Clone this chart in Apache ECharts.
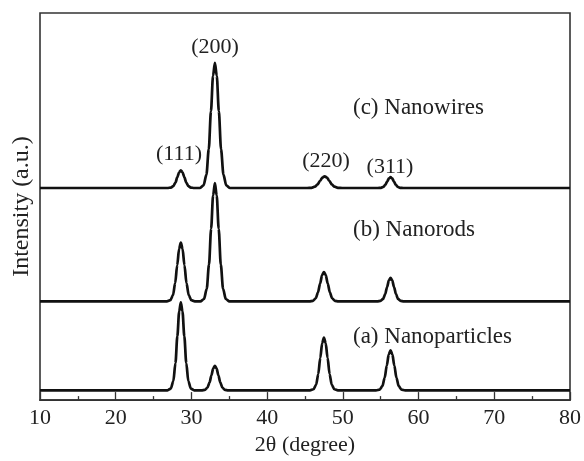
<!DOCTYPE html>
<html>
<head>
<meta charset="utf-8">
<script src="https://cdn.jsdelivr.net/npm/echarts@6/dist/echarts.min.js"></script>
<style>html,body{margin:0;padding:0;background:#fff;}#chart{width:584px;height:461px;}</style>
</head>
<body>
<div id="chart"></div>
<script>
// 2θ (degree) and intensity (a.u., with the vertical offsets as drawn) for each sample
const thetaA = [10,
  26.84, 27.28, 27.61, 27.89, 28.14, 28.38, 28.6, 28.82, 29.06, 29.32, 29.59, 29.92, 30.36,
  31.34, 31.78, 32.11, 32.39, 32.64, 32.88, 33.1, 33.32, 33.56, 33.82, 34.09, 34.42, 34.86,
  45.66, 46.12, 46.47, 46.75, 47.02, 47.27, 47.5, 47.73, 47.98, 48.25, 48.53, 48.88, 49.34,
  54.38, 54.86, 55.22, 55.52, 55.8, 56.06, 56.3, 56.54, 56.8, 57.08, 57.38, 57.74, 58.22,
  80];
const intensityA = [10,
  10, 11.8, 19.5, 37.9, 65.3, 90.6, 100, 90.6, 65.3, 37.9, 19.5, 11.8, 10,
  10, 10.5, 12.7, 17.8, 25.4, 32.4, 35, 32.4, 25.4, 17.8, 12.7, 10.5, 10,
  10, 11.1, 15.7, 26.7, 43.2, 58.3, 64, 58.3, 43.2, 26.7, 15.7, 11.1, 10,
  10, 10.8, 14.3, 22.7, 35.2, 46.7, 51, 46.7, 35.2, 22.7, 14.3, 10.8, 10,
  10];

const thetaB = [10,
  26.76, 27.22, 27.57, 27.85, 28.12, 28.37, 28.6, 28.83, 29.08, 29.35, 29.64, 29.98, 30.44,
  31.18, 31.66, 32.02, 32.32, 32.6, 32.86, 33.1, 33.34, 33.6, 33.88, 34.18, 34.54, 35.02,
  45.58, 46.06, 46.42, 46.72, 47.0, 47.26, 47.5, 47.74, 48.0, 48.28, 48.58, 48.94, 49.42,
  54.54, 54.98, 55.31, 55.59, 55.84, 56.08, 56.3, 56.52, 56.76, 57.02, 57.29, 57.62, 58.06,
  80];
const intensityB = [101,
  101, 102.2, 107.4, 119.6, 137.8, 154.7, 161, 154.7, 137.8, 119.6, 107.4, 102.2, 101,
  101, 103.4, 113.8, 138.5, 175.3, 209.3, 222, 209.3, 175.3, 138.5, 113.8, 103.4, 101,
  101, 101.6, 104.2, 110.3, 119.4, 127.9, 131, 127.9, 119.4, 110.3, 104.2, 101.6, 101,
  101, 101.5, 103.5, 108.4, 115.7, 122.5, 125, 122.5, 115.7, 108.4, 103.5, 101.5, 101,
  101];

const thetaC = [10,
  26.84, 27.28, 27.61, 27.89, 28.14, 28.38, 28.6, 28.82, 29.06, 29.32, 29.59, 29.92, 30.36,
  31.1, 31.6, 31.98, 32.29, 32.58, 32.85, 33.1, 33.35, 33.62, 33.91, 34.23, 34.6, 35.1,
  45.28, 45.86, 46.3, 46.66, 46.99, 47.31, 47.6, 47.89, 48.21, 48.54, 48.9, 49.34, 49.92,
  54.62, 55.04, 55.36, 55.62, 55.86, 56.09, 56.3, 56.51, 56.74, 56.98, 57.25, 57.56, 57.98,
  80];
const intensityC = [217,
  217, 217.4, 218.9, 222.6, 228.1, 233.1, 235, 233.1, 228.1, 222.6, 218.9, 217.4, 217,
  217, 219.6, 230.6, 256.7, 295.6, 331.6, 345, 331.6, 295.6, 256.7, 230.6, 219.6, 217,
  217, 217.2, 218.3, 220.7, 224.4, 227.7, 229, 227.7, 224.4, 220.7, 218.3, 217.2, 217,
  217, 217.2, 218.2, 220.4, 223.8, 226.8, 228, 226.8, 223.8, 220.4, 218.2, 217.2, 217,
  217];

const sampleNames = ['(a) Nanoparticles', '(b) Nanorods', '(c) Nanowires'];
const peakLabels = ['(111)', '(200)', '(220)', '(311)'];
const xTicks = [10, 20, 30, 40, 50, 60, 70, 80];

const FONT = 'Liberation Serif';
const chart = echarts.init(document.getElementById('chart'));

function pairs(xs, ys) { return xs.map((x, i) => [x, ys[i]]); }

const lineStyle = { color: '#111', width: 2.7 };
const mkSeries = (name, xs, ys) => ({
  name, type: 'line', data: pairs(xs, ys), symbol: 'none',
  smooth: 0.3, smoothMonotone: 'x', lineStyle, animation: false, z: 3
});

const txt = (text, x, y, align, size) => ({
  type: 'text', x, y, z: 10,
  style: { text, align: align || 'center', verticalAlign: 'middle', fontSize: size || 22, fontFamily: FONT, fill: '#222' }
});

chart.setOption({
  animation: false,
  grid: { left: 40, right: 11, top: 13, bottom: 52, show: true, borderColor: '#333', borderWidth: 1.6 },
  xAxis: {
    type: 'value', min: 10, max: 80, interval: 10,
    name: '2θ (degree)', nameLocation: 'middle', nameGap: 31,
    nameTextStyle: { fontFamily: FONT, fontSize: 22, color: '#222' },
    axisLine: { show: true, lineStyle: { color: '#333', width: 1.6 } },
    axisTick: { show: true, inside: true, length: 8, lineStyle: { color: '#333', width: 1.3 } },
    minorTick: { show: true, splitNumber: 2, length: 4, lineStyle: { color: '#333', width: 1.3 } },
    axisLabel: { fontFamily: FONT, fontSize: 22, color: '#222', margin: 7,
      formatter: v => xTicks.includes(v) ? String(v) : '' },
    splitLine: { show: false }
  },
  yAxis: {
    type: 'value', min: 0, max: 396,
    name: 'Intensity (a.u.)', nameLocation: 'middle', nameGap: 6, nameRotate: 90,
    nameTextStyle: { fontFamily: FONT, fontSize: 24, color: '#222' },
    axisLine: { show: false }, axisTick: { show: false }, axisLabel: { show: false }, splitLine: { show: false }
  },
  series: [
    mkSeries(sampleNames[0], thetaA, intensityA),
    mkSeries(sampleNames[1], thetaB, intensityB),
    mkSeries(sampleNames[2], thetaC, intensityC)
  ],
  graphic: [
    txt(peakLabels[0], 179, 154),
    txt(peakLabels[1], 215, 47),
    txt(peakLabels[2], 326, 161),
    txt(peakLabels[3], 390, 167),
    txt(sampleNames[2], 353, 108, 'left', 23),
    txt(sampleNames[1], 353, 230, 'left', 23),
    txt(sampleNames[0], 353, 337, 'left', 23)
  ]
});
</script>
</body>
</html>
